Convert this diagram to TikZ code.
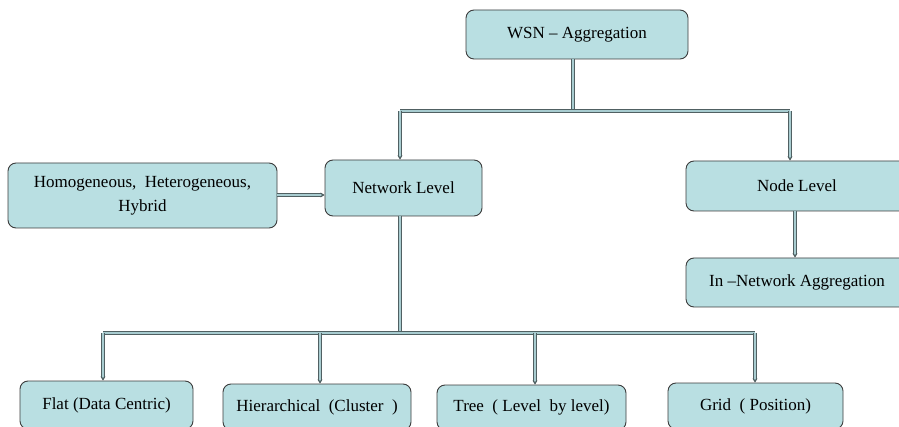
\documentclass[tikz,border=0pt]{standalone}
\usepackage{fontspec}
\setmainfont{Liberation Serif}
\usetikzlibrary{arrows.meta}
\definecolor{boxfill}{RGB}{185,223,226}
\definecolor{boxline}{RGB}{60,60,60}
\definecolor{pipefill}{RGB}{168,204,208}
\definecolor{pipeline}{RGB}{80,96,98}

\begin{document}
\begin{tikzpicture}
[x=1pt,y=-1pt,>={Stealth[length=4pt,width=5pt]},
box/.style = {draw=boxline, fill=boxfill, rounded corners=8pt, line width=0.9pt, inner sep=0pt, align=center, font=\fontsize{17}{24}\selectfont},
pipe/.style = {draw=pipeline, double=pipefill, double distance=2.2pt, line width=0.7pt},]

\useasboundingbox (0,0) rectangle (899,427);
\clip (0,0) rectangle (899,427);

\node (W) at (577,34.5)[box,minimum width=222,minimum height=49]{WSN -- Aggregation};
\node (H) at (142.5,195.5)[box,minimum width=269,minimum height=65]{Homogeneous,\ \ Heterogeneous,\\Hybrid};
\node (N) at (403.5,188)[box,minimum width=157,minimum height=56]{Network Level};
\node (D) at (797,186)[box,minimum width=222,minimum height=50]{Node Level};
\node (I) at (797,282.5)[box,minimum width=222,minimum height=49]{In --Network Aggregation};
\node (F) at (106.5,405)[box,minimum width=173,minimum height=48]{Flat (Data Centric)};
\node (C) at (317,407)[box,minimum width=188,minimum height=46]{Hierarchical\ \ (Cluster\ \ )};
\node (T) at (531.5,407.5)[box,minimum width=189,minimum height=45]{Tree\ \ (\ Level\ \ by\ level)};
\node (G) at (755.5,406)[box,minimum width=175,minimum height=46]{Grid\ \ (\ Position)};

% top split
\coordinate (T1) at (573,111);
\coordinate (L1) at (400,111);
\coordinate (R1) at (790,111);
\draw [pipe](W.south -| T1)--(T1);
\draw [pipe](L1)--(R1);
\draw [pipe,->](L1)--(L1 |- N.north);
\draw [pipe,->](R1)--(R1 |- D.north);

\draw [pipe,->](H.east |- 0,195)--(N.west |- 0,195);
\draw [pipe,->](D.south -| 795,0)--(I.north -| 795,0);

% bottom split
\coordinate (T2) at (400,333);
\coordinate (L2) at (103,333);
\coordinate (R2) at (755,333);
\draw [pipe](N.south -| T2)--(T2);
\draw [pipe](L2)--(R2);
\draw [pipe,->](L2)--(L2 |- F.north);
\draw [pipe,->](L2 -| 320,0)--(C.north -| 320,0);
\draw [pipe,->](L2 -| 535,0)--(T.north -| 535,0);
\draw [pipe,->](R2)--(R2 |- G.north);

\end{tikzpicture}
\end{document}
